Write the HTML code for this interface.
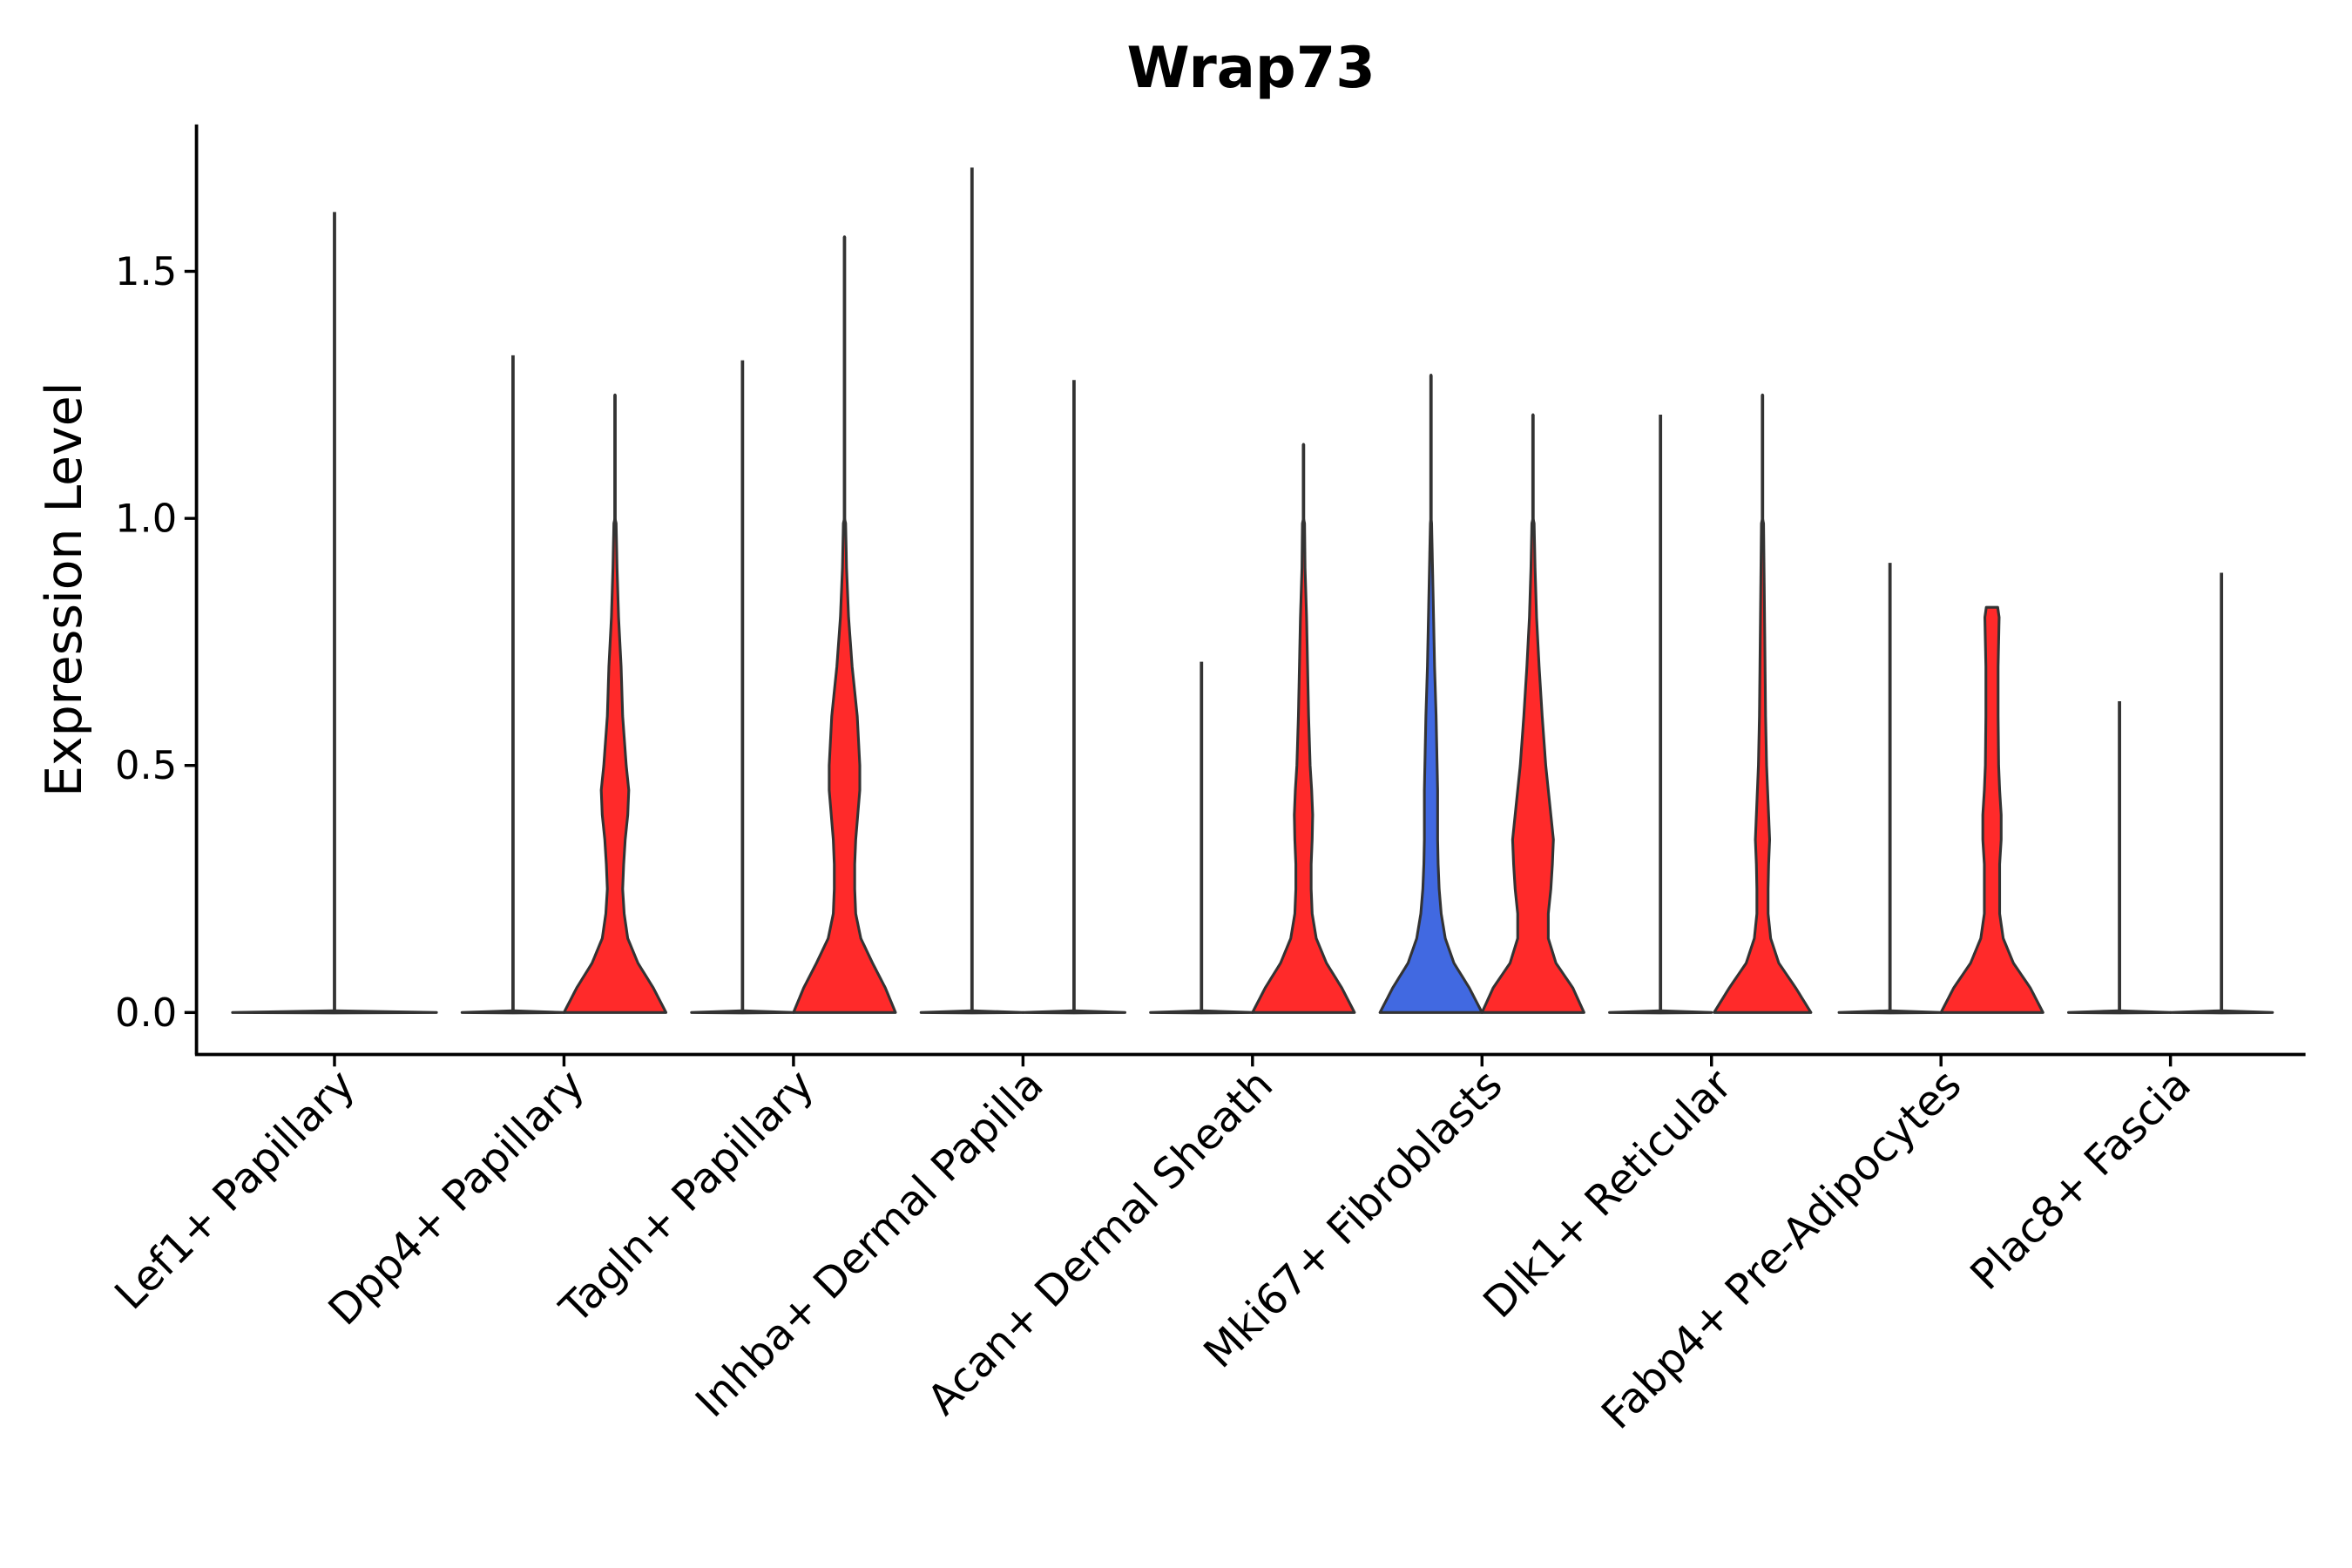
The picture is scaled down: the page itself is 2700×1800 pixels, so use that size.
<!DOCTYPE html>
<html><head><meta charset="utf-8">
<style>html,body{margin:0;padding:0;background:#fff}svg{display:block}text{font-family:"DejaVu Sans","Liberation Sans",sans-serif;fill:#000}</style>
</head><body>
<svg id="chart" width="2700" height="1800" viewBox="0 0 1568 1045.33" xmlns="http://www.w3.org/2000/svg">
<text x="834" y="58" text-anchor="middle" font-size="38" font-weight="bold">Wrap73</text>
<text transform="translate(54,393) rotate(-90)" text-anchor="middle" font-size="33">Expression Level</text>
<g id="plot"></g>
</svg>
<script>
const categories = ["Lef1+ Papillary","Dpp4+ Papillary","Tagln+ Papillary","Inhba+ Dermal Papilla","Acan+ Dermal Sheath","Mki67+ Fibroblasts","Dlk1+ Reticular","Fabp4+ Pre-Adipocytes","Plac8+ Fascia"];
const yTicks = [0, 0.5, 1.0, 1.5];
const yTickLabels = ["0.0","0.5","1.0","1.5"];
const densityGrid = [0,0.05,0.1,0.15,0.2,0.25,0.3,0.35,0.4,0.45,0.5,0.6,0.7,0.8,0.9,1.0];
const violinCat = [0,1,1,2,2,3,3,4,4,5,5,6,6,7,7,8,8];
const violinDodge = [0,-1,1,-1,1,-1,1,-1,1,-1,1,-1,1,-1,1,-1,1];
const violinGroup = ["flat","flat","red","flat","red","flat","flat","flat","red","blue","red","flat","red","flat","red","flat","flat"];
const violinMax = [1.62,1.33,1.25,1.32,1.57,1.71,1.28,0.71,1.15,1.29,1.21,1.21,1.25,0.91,0.82,0.63,0.89];
const densDpp4R  = [1.0,0.75,0.45,0.25,0.18,0.15,0.17,0.2,0.25,0.27,0.22,0.15,0.12,0.07,0.04,0.02];
const densTaglnR = [1.0,0.8,0.55,0.32,0.22,0.2,0.2,0.22,0.26,0.3,0.3,0.25,0.15,0.08,0.04,0.02];
const densAcanR  = [1.0,0.75,0.45,0.25,0.17,0.15,0.15,0.17,0.18,0.16,0.13,0.1,0.08,0.06,0.03,0.02];
const densMki67L = [1.0,0.75,0.45,0.28,0.2,0.16,0.14,0.13,0.13,0.13,0.12,0.1,0.07,0.05,0.03,0.01];
const densMki67R = [1.0,0.78,0.45,0.3,0.3,0.35,0.38,0.4,0.35,0.3,0.25,0.18,0.12,0.07,0.04,0.02];
const densDlk1R  = [0.95,0.65,0.32,0.16,0.11,0.11,0.12,0.14,0.12,0.1,0.08,0.06,0.05,0.04,0.03,0.02];
const densFabp4R = [1.0,0.75,0.42,0.22,0.15,0.15,0.15,0.18,0.18,0.15,0.13,0.12,0.12,0.14,0.0,0.0];
const densFlat   = [1.0,0,0,0,0,0,0,0,0,0,0,0,0,0,0,0];
const violinDens = [densFlat,densFlat,densDpp4R,densFlat,densTaglnR,densFlat,densFlat,densFlat,densAcanR,densMki67L,densMki67R,densFlat,densDlk1R,densFlat,densFabp4R,densFlat,densFlat];

const NS="http://www.w3.org/2000/svg";
const g=document.getElementById('plot');
const X0=131, XR=1537, YT=83, YB=703;
const yS=v=>675-v*329.4;
const xS=i=>223+i*153;
const colors={red:"#FF2A2A",blue:"#4169E1",flat:"#FF2A2A"};
function mk(t,a){const e=document.createElementNS(NS,t);for(const k in a)e.setAttribute(k,a[k]);g.appendChild(e);return e;}
function dAt(d,v){if(v<=0)return d[0];for(let i=1;i<densityGrid.length;i++){if(v<=densityGrid[i]){const t=(v-densityGrid[i-1])/(densityGrid[i]-densityGrid[i-1]);return d[i-1]+t*(d[i]-d[i-1]);}}return 0;}

for(let k=0;k<violinCat.length;k++){
  const cx=xS(violinCat[k])+violinDodge[k]*34;
  const hw=violinDodge[k]===0?68:34;
  const d=violinDens[k], mx=violinMax[k];
  const flat=violinGroup[k]==="flat";
  const ln=mk('line',{x1:cx,x2:cx,y1:yS(0),y2:yS(mx),stroke:"#333",'stroke-width':2.2});
  
  
  let pts=[];
  if(flat){
    pts=[[cx-hw,yS(0)],[cx,yS(0)-1.2],[cx+hw,yS(0)],[cx,yS(0)+0.3]];
  } else {
    const vs=[];for(let v=0;v<mx;v+=0.01)vs.push(v);vs.push(mx);
    const r=[],l=[];
    vs.forEach(v=>{const w=dAt(d,v)*hw;r.push([cx+w,yS(v)]);l.push([cx-w,yS(v)]);});
    pts=r.concat(l.reverse());
  }
  const p=mk('polygon',{points:pts.map(q=>q[0].toFixed(2)+','+q[1].toFixed(2)).join(' '),fill:colors[violinGroup[k]],stroke:"#333",'stroke-width':1.8,'stroke-linejoin':'round'});
  
  
}
const ya=mk('line',{x1:X0,x2:X0,y1:YT,y2:YB,stroke:"#000",'stroke-width':2.2});


const xa=mk('line',{x1:X0-1,x2:XR,y1:YB,y2:YB,stroke:"#000",'stroke-width':2.2});


yTicks.forEach((v,i)=>{
  const t=mk('line',{x1:X0-8,x2:X0,y1:yS(v),y2:yS(v),stroke:"#000",'stroke-width':2});
  
  
  const tx=mk('text',{x:X0-13,y:yS(v)+9,'text-anchor':'end','font-size':26});
  tx.textContent=yTickLabels[i];
  
  
});
categories.forEach((c,i)=>{
  const x=xS(i);
  const t=mk('line',{x1:x,x2:x,y1:YB,y2:YB+8,stroke:"#000",'stroke-width':2});
  
  
  const tx=mk('text',{transform:`translate(${x+15},${YB+22}) rotate(-45)`,'text-anchor':'end','font-size':28});
  tx.textContent=c;
  
  
});
</script>
</body></html>
